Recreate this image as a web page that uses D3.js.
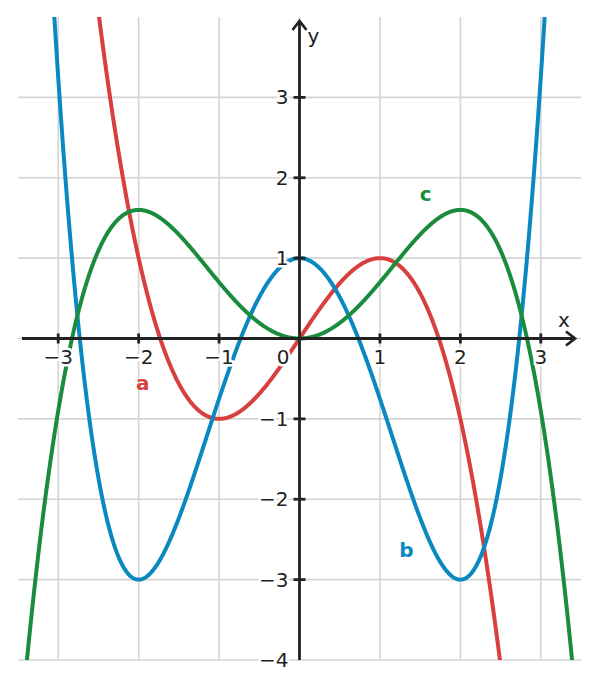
<!DOCTYPE html>
<html><head><meta charset="utf-8">
<script src="https://cdn.jsdelivr.net/npm/d3@7/dist/d3.min.js"></script>
<style>body{margin:0;background:#fff}svg{display:block}</style>
</head><body>
<script>
// polynomial coefficients (c0 + c1 x + c2 x^2 + ...)
const curveNames = ["a", "b", "c"];
const coeffA = [0, 1.5, 0, -0.5];          // extremes (1,1), (-1,-1)
const coeffB = [1, 0, -2, 0, 0.25];        // max (0,1), minima (±2,-3)
const coeffC = [0, 0, 0.8, 0, -0.1];       // min (0,0), maxima (±2,1.6)
const curveColors = ["#d7403e", "#0a88c0", "#1b8c3e"];
const labelPos = [[-1.95, -0.55], [1.33, -2.63], [1.57, 1.8]];
const xTicks = [-3, -2, -1, 1, 2, 3];
const yTicks = [-4, -3, -2, -1, 1, 2, 3];
const xGrid = [-3, -2, -1, 0, 1, 2, 3];
const yGrid = [-4, -3, -2, -1, 0, 1, 2, 3];

const W = 599, H = 689;
const x = d3.scaleLinear().domain([-3.5, 3.5]).range([18, 581]);
const y = d3.scaleLinear().domain([-4, 4]).range([660, 17]);

const svg = d3.select("body").append("svg").attr("width", W).attr("height", H);
svg.append("defs").append("clipPath").attr("id", "clip")
  .append("rect").attr("x", x(-3.5)).attr("y", y(4)).attr("width", x(3.5) - x(-3.5)).attr("height", y(-4) - y(4));

// grid
const g = svg.append("g");
g.selectAll(".vg").data(xGrid).join("line")
  .attr("x1", d => x(d)).attr("x2", d => x(d)).attr("y1", y(4)).attr("y2", y(-4))
  .attr("stroke", "#d4d4d4").attr("stroke-width", 1.6);
g.selectAll(".hg").data(yGrid).join("line")
  .attr("y1", d => y(d)).attr("y2", d => y(d)).attr("x1", x(-3.5)).attr("x2", x(3.5))
  .attr("stroke", "#d4d4d4").attr("stroke-width", 1.6);

// curves
const poly = c => t => c.reduce((s, k, i) => s + k * Math.pow(t, i), 0);
const funcs = [poly(coeffA), poly(coeffB), poly(coeffC)];
const xs = d3.range(-3.6, 3.6001, 0.005);
const line = d3.line().x(d => x(d[0])).y(d => y(d[1]));
const cg = svg.append("g").attr("clip-path", "url(#clip)");
funcs.forEach((f, i) => {
  const pts = xs.map(t => [t, Math.max(-6, Math.min(6, f(t)))]);
  cg.append("path").attr("d", line(pts)).attr("fill", "none")
    .attr("stroke", curveColors[i]).attr("stroke-width", 4).attr("stroke-linejoin", "round");
});

// axes
const ax = svg.append("g").attr("stroke", "#222").attr("stroke-width", 2.8).attr("fill", "none");
ax.append("line").attr("x1", 22).attr("x2", 575).attr("y1", y(0)).attr("y2", y(0));
ax.append("line").attr("x1", x(0)).attr("x2", x(0)).attr("y1", y(-4)).attr("y2", 21);
ax.append("path").attr("d", `M${575 - 9},${y(0) - 7} L575,${y(0)} L${575 - 9},${y(0) + 7}`);
ax.append("path").attr("d", `M${x(0) - 7},${21 + 9} L${x(0)},21 L${x(0) + 7},${21 + 9}`);
ax.selectAll(".xt").data(xTicks).join("line")
  .attr("x1", d => x(d)).attr("x2", d => x(d)).attr("y1", y(0) - 5).attr("y2", y(0) + 5);
ax.selectAll(".yt").data(yTicks.filter(d => d > -4)).join("line")
  .attr("y1", d => y(d)).attr("y2", d => y(d)).attr("x1", x(0) - 6).attr("x2", x(0) + 6);

// tick labels with white halo
const fmt = d => d < 0 ? "\u2212" + Math.abs(d) : String(d);
const tl = svg.append("g").attr("font-family", "DejaVu Sans, sans-serif").attr("font-size", 20)
  .attr("fill", "#222").attr("stroke", "#fff").attr("stroke-width", 5).attr("paint-order", "stroke")
  .attr("stroke-linejoin", "round");
tl.selectAll(".xl").data(xTicks).join("text")
  .attr("x", d => x(d)).attr("y", y(0) + 25).attr("text-anchor", "middle").text(fmt);
tl.selectAll(".yl").data(yTicks).join("text")
  .attr("x", x(0) - 11).attr("y", d => y(d) + 7).attr("text-anchor", "end").text(fmt);
tl.append("text").attr("x", x(0) - 10).attr("y", y(0) + 25).attr("text-anchor", "end").text("0");
tl.append("text").attr("x", 558).attr("y", y(0) - 12).text("x");
tl.append("text").attr("x", x(0) + 8).attr("y", 43).text("y");

// curve labels
svg.append("g").selectAll("text").data(curveNames).join("text")
  .attr("x", (d, i) => x(labelPos[i][0])).attr("y", (d, i) => y(labelPos[i][1]) + 7)
  .attr("text-anchor", "middle").attr("font-family", "DejaVu Sans, sans-serif")
  .attr("font-weight", "bold").attr("font-size", 20)
  .attr("fill", (d, i) => curveColors[i]).text(d => d);
</script>
</body></html>
